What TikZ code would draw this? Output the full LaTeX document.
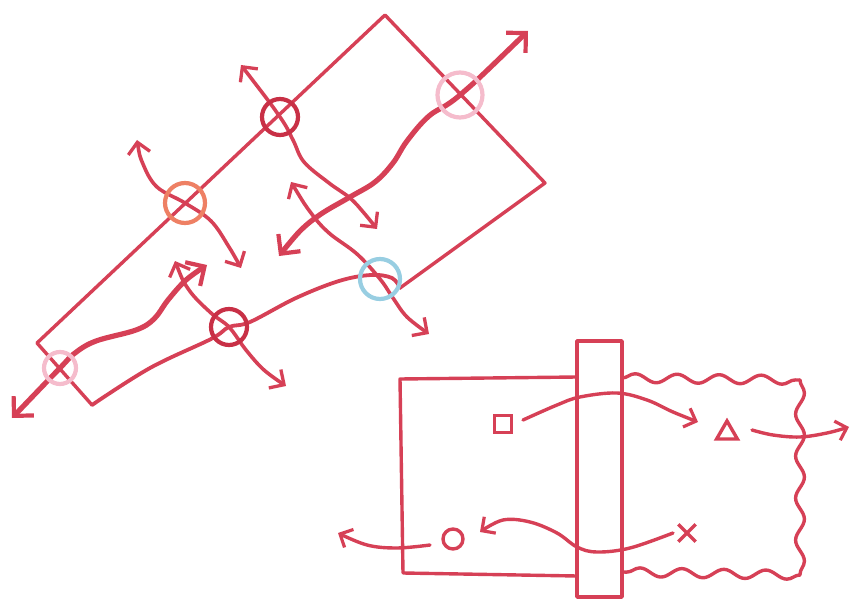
\documentclass[tikz,border=0pt]{standalone}
\usetikzlibrary{arrows.meta,decorations.pathmorphing,shapes.geometric,shapes.misc}
\definecolor{ink}{RGB}{214,64,86}
\definecolor{darkink}{RGB}{200,48,70}
\definecolor{pinkc}{RGB}{245,188,204}
\definecolor{orangec}{RGB}{238,128,100}
\definecolor{bluec}{RGB}{152,206,226}
\tikzset{
  edge/.style={draw=ink,line width=3.4pt,line cap=round,line join=round},
  thinarrow/.style={draw=ink,line width=3.6pt,line cap=round,
     {Straight Barb[length=11pt,width=22pt,line width=3.3pt]}-{Straight Barb[length=11pt,width=22pt,line width=3.3pt]}},
  thickarrow/.style={draw=ink,line width=5.2pt,line cap=round,
     {Straight Barb[length=14pt,width=28pt,line width=4.2pt]}-{Straight Barb[length=14pt,width=28pt,line width=4.2pt]}},
  onearrow/.style={draw=ink,line width=3.4pt,line cap=round,
     -{Straight Barb[length=10pt,width=20pt,line width=3.2pt]}},
  ring/.style={circle,draw,line width=4.2pt,inner sep=0pt},
  wavy/.style={edge,decorate,decoration={snake,segment length=42pt,amplitude=4.4pt}},
  glyph/.style={draw=ink,line width=3.4pt}
}
\begin{document}
\begin{tikzpicture}[x=1pt,y=-1pt]
\useasboundingbox (0,0) rectangle (852,599);
% ---------- tilted rectangle ----------
\coordinate (L) at (37,343);
\coordinate (T) at (385,15);
\coordinate (R) at (545,183);
\coordinate (B) at (92,405);
\coordinate (Rb) at (400,288);
% circle centres
\coordinate (p1) at (60,368);
\coordinate (o1) at (185,203);
\coordinate (d1) at (280,117);
\coordinate (p2) at (460,95);
\coordinate (b1) at (380,279);
\coordinate (d2) at (229,327);
\draw[edge] (L) -- (T) -- (R) -- (Rb);
\draw[edge] (L) -- (B);
\draw[edge,line width=3.8pt] plot[smooth,tension=0.6] coordinates
  {(Rb) (392,278) (371,275) (339,281) (296,298) (250,322) (d2) (211,339) (150,368) (B)};
% arrows
\draw[thickarrow] plot[smooth,tension=0.6] coordinates
  {(12,418) (p1) (75,353) (96,341) (136,330) (154,319) (168,300) (186,280) (207,265)};
\draw[thinarrow] plot[smooth,tension=0.6] coordinates
  {(137,140) (143,164) (157,187) (o1) (211,221) (229,247) (241,268)};
\draw[thinarrow] plot[smooth,tension=0.6] coordinates
  {(241,65) (d1) (293,140) (304,162) (329,183) (350,198) (364,213) (377,229)};
\draw[thickarrow] plot[smooth,tension=0.6] coordinates
  {(528,31) (p2) (429,116) (407,141) (393,163) (375,182) (350,197) (321,214) (300,231) (279,256)};
\draw[thinarrow] plot[smooth,tension=0.6] coordinates
  {(291,182) (311,213) (329,233) (357,254) (b1) (393,298) (407,317) (429,334)};
\draw[thinarrow] plot[smooth,tension=0.6] coordinates
  {(175,261) (189,290) (211,313) (d2) (246,350) (264,370) (286,386)};
% rings
\node[ring,pinkc,minimum size=32pt] (P1) at (p1) {};
\node[ring,orangec,minimum size=40pt] (O1) at (o1) {};
\node[ring,darkink,minimum size=36pt] (D1) at (d1) {};
\node[ring,pinkc,minimum size=45pt] (P2) at (p2) {};
\node[ring,bluec,minimum size=40pt] (B1) at (b1) {};
\node[ring,darkink,minimum size=36pt] (D2) at (d2) {};
% ---------- lower right ----------
\draw[edge] (577,377) -- (400,379) -- (403,573) -- (577,576);
\draw[wavy] (622,378) -- (800,380);
\draw[wavy] (800,380) -- (800,575);
\draw[wavy] (800,575) -- (622,572);
\draw[edge] (577,341) rectangle (622,597);
\node[glyph,minimum size=17pt,inner sep=0pt] (sq) at (503,424) {};
\node[glyph,regular polygon,regular polygon sides=3,minimum size=24pt,inner sep=0pt] (tri) at (727,433) {};
\node[glyph,circle,minimum size=20pt,inner sep=0pt] (ci) at (453,539) {};
\node[glyph,cross out,minimum size=14pt,inner sep=0pt] (xx) at (687,533) {};
\draw[onearrow] plot[smooth,tension=0.6] coordinates
  {(523,420) (557,405) (580,397) (617,393) (647,400) (673,412) (698,422)};
\draw[onearrow] plot[smooth,tension=0.6] coordinates
  {(752,430) (773,435) (800,437) (827,433) (849,427)};
\draw[onearrow] plot[smooth,tension=0.6] coordinates
  {(673,533) (630,548) (597,552) (577,547) (557,533) (530,522) (503,520) (480,532)};
\draw[onearrow] plot[smooth,tension=0.6] coordinates
  {(430,545) (397,548) (367,545) (338,533)};
\end{tikzpicture}
\end{document}
